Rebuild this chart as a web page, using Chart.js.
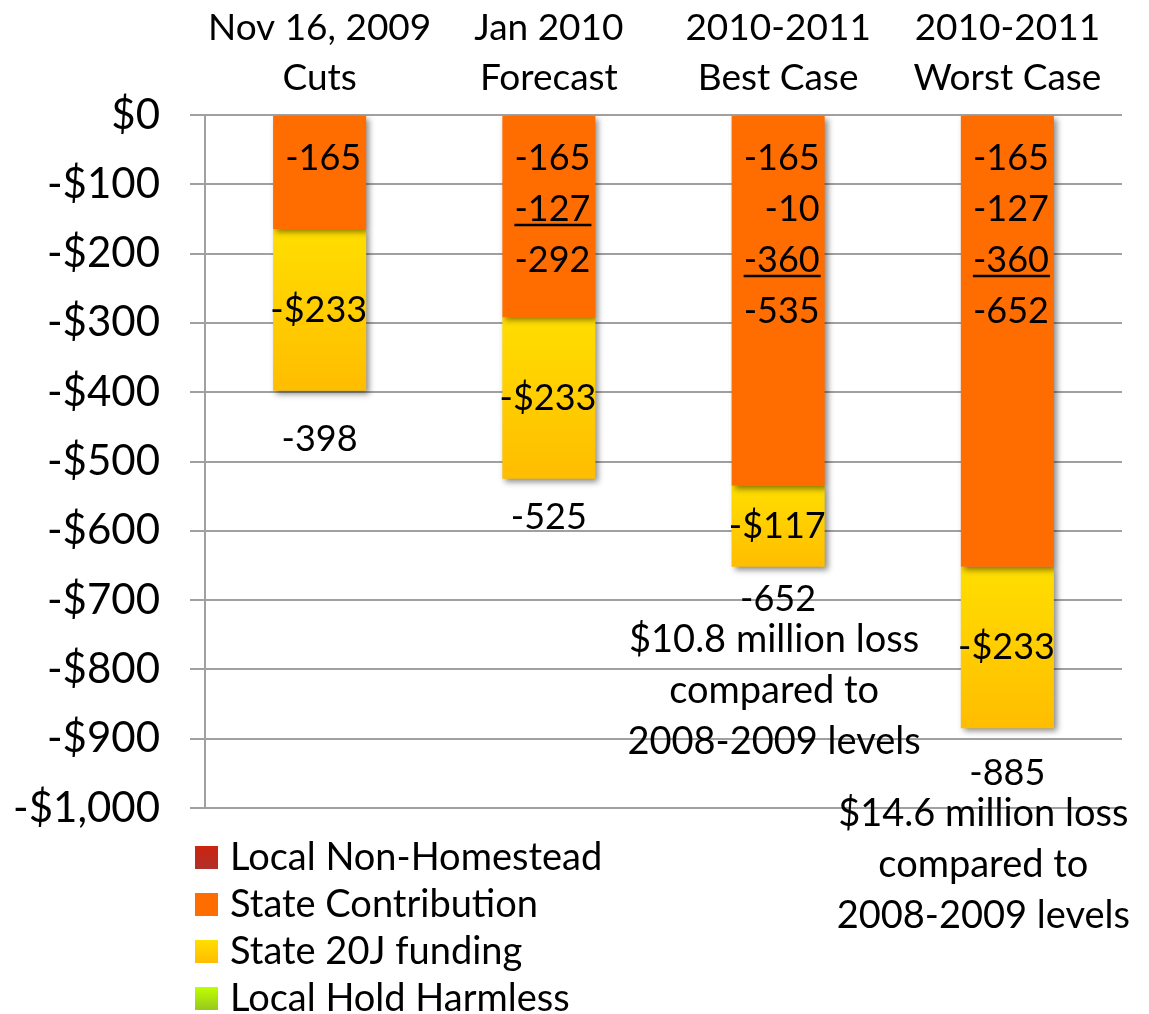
<!DOCTYPE html>
<html>
<head>
<meta charset="utf-8">
<script src="https://cdn.jsdelivr.net/npm/chart.js@4/dist/chart.umd.min.js"></script>
<style>
  html, body { margin: 0; padding: 0; background: #fff; }
  #wrap { width: 1149px; height: 1014px; position: relative; }
</style>
</head>
<body>
<div id="wrap"><canvas id="c"></canvas></div>
<script>
// ---- data ----
const categories = [["Nov 16, 2009", "Cuts"], ["Jan 2010", "Forecast"], ["2010-2011", "Best Case"], ["2010-2011", "Worst Case"]];
const seriesNames = ["Local Non-Homestead", "State Contribution", "State 20J funding", "Local Hold Harmless"];
const localNonHomestead = [0, 0, 0, 0];
const stateContribution = [-165, -292, -535, -652];
const state20J = [-233, -233, -117, -233];
const localHoldHarmless = [0, 0, 0, 0];
const totals = [-398, -525, -652, -885];
// breakdown text shown inside the State Contribution bars (underlined entry flagged)
const contributionBreakdown = [
  [["-165", false]],
  [["-165", false], ["-127", true], ["-292", false]],
  [["-165", false], ["-10", false], ["-360", true], ["-535", false]],
  [["-165", false], ["-127", false], ["-360", true], ["-652", false]]
];
const segmentLabels20J = ["-$233", "-$233", "-$117", "-$233"];
const notes = [null, null, ["$10.8 million loss", "compared to", "2008-2009 levels"], ["$14.6 million loss", "compared to", "2008-2009 levels"]];
const yTicks = [0, -100, -200, -300, -400, -500, -600, -700, -800, -900, -1000];

const FONT = "Lato, 'Open Sans', sans-serif";
const GRID = '#A0A0A0';

function yellowGrad(ctx) {
  const chart = ctx.chart;
  if (!chart.chartArea || ctx.dataIndex === undefined) return '#FFD000';
  const ys = chart.scales.y;
  const i = ctx.dataIndex;
  const start = localNonHomestead[i] + stateContribution[i];
  const top = ys.getPixelForValue(start);
  const bottom = ys.getPixelForValue(start + state20J[i]);
  if (!isFinite(top) || !isFinite(bottom) || top === bottom) return '#FFD000';
  const g = chart.ctx.createLinearGradient(0, top, 0, bottom);
  g.addColorStop(0, '#FFDE00');
  g.addColorStop(1, '#FFBD00');
  return g;
}

const shadowPlugin = {
  id: 'barShadow',
  beforeDatasetsDraw(chart) {
    const c = chart.ctx;
    c.save();
    c.shadowColor = 'rgba(0,0,0,0.45)';
    c.shadowBlur = 6;
    c.shadowOffsetX = 3;
    c.shadowOffsetY = 3;
  },
  afterDatasetsDraw(chart) {
    chart.ctx.restore();
  }
};

const labelPlugin = {
  id: 'labels',
  afterDraw(chart) {
    const c = chart.ctx;
    const area = chart.chartArea;
    const metaC = chart.getDatasetMeta(1);
    const metaY = chart.getDatasetMeta(2);
    c.save();
    c.fillStyle = '#000';
    c.strokeStyle = '#000';
    c.textBaseline = 'middle';
    const numFont = '36px ' + FONT;
    const noteFont = '38px ' + FONT;
    const totalNudge = [49, 39, 33, 45];
    categories.forEach((cat, i) => {
      const barC = metaC.data[i];
      const barY = metaY.data[i];
      const right = barC.x + barC.width / 2;
      c.font = numFont;
      // breakdown lines in State Contribution bar
      c.textAlign = 'right';
      contributionBreakdown[i].forEach((ln, k) => {
        const yy = area.top + 43 + k * 51;
        const tx = right - 5;
        c.fillText(ln[0], tx, yy);
        if (ln[1]) {
          const w = c.measureText(ln[0]).width;
          c.lineWidth = 2.5;
          c.beginPath();
          c.moveTo(tx - w, yy + 16);
          c.lineTo(tx + 1, yy + 16);
          c.stroke();
        }
      });
      // 20J segment label
      const midY = (barY.y + barY.base) / 2;
      c.fillText(segmentLabels20J[i], right + 1, midY);
      // total label below bar
      c.textAlign = 'center';
      const bottomY = Math.max(barY.y, barY.base);
      const ty = bottomY + totalNudge[i];
      c.fillText(String(totals[i]), barC.x, ty);
      // notes
      if (notes[i]) {
        c.font = noteFont;
        let maxW = 0;
        notes[i].forEach(t => { maxW = Math.max(maxW, c.measureText(t).width); });
        let cx = barC.x - 4;
        const limit = chart.width - 19;
        if (cx + maxW / 2 > limit) cx = limit - maxW / 2;
        notes[i].forEach((t, k) => {
          c.fillText(t, cx, ty + 40 + k * 51);
        });
      }
    });
    c.restore();
  }
};

const legendPlugin = {
  id: 'customLegend',
  afterDraw(chart) {
    const c = chart.ctx;
    const area = chart.chartArea;
    const fills = [
      ['#CC2410', '#B0302A'],
      ['#FF6D00', '#FF6D00'],
      ['#FFDE00', '#FFBD00'],
      ['#C0FF00', '#96C81E']
    ];
    c.save();
    c.font = '38px ' + FONT;
    c.textBaseline = 'middle';
    c.textAlign = 'left';
    seriesNames.forEach((name, k) => {
      const cy = area.bottom + 50 + k * 47;
      const bx = area.left - 10, by = cy - 12, bs = 23;
      const g = c.createLinearGradient(0, by, 0, by + bs);
      g.addColorStop(0, fills[k][0]);
      g.addColorStop(1, fills[k][1]);
      c.fillStyle = g;
      c.fillRect(bx, by, bs, bs);
      c.fillStyle = '#000';
      c.fillText(name, area.left + 25, cy);
    });
    c.restore();
  }
};

new Chart(document.getElementById('c'), {
  type: 'bar',
  data: {
    labels: categories,
    datasets: [
      { label: seriesNames[0], data: localNonHomestead, backgroundColor: '#C0281A', borderWidth: 0 },
      { label: seriesNames[1], data: stateContribution, backgroundColor: '#FF6D00', borderWidth: 0 },
      { label: seriesNames[2], data: state20J, backgroundColor: yellowGrad, borderWidth: 0 },
      { label: seriesNames[3], data: localHoldHarmless, backgroundColor: '#A8E000', borderWidth: 0 }
    ]
  },
  options: {
    responsive: true,
    maintainAspectRatio: false,
    animation: false,
    layout: { padding: { top: 0, right: 27, bottom: 206, left: 0 } },
    plugins: {
      legend: { display: false },
      tooltip: { enabled: false },
      title: { display: false }
    },
    datasets: { bar: { categoryPercentage: 1.0, barPercentage: 0.406 } },
    scales: {
      x: {
        position: 'top',
        stacked: true,
        afterFit(scale) { scale.height = 115; },
        grid: { display: false, drawTicks: false },
        border: { display: false },
        ticks: {
          color: '#000',
          font: { family: FONT, size: 37, lineHeight: 1.35 },
          padding: 12,
          maxRotation: 0,
          autoSkip: false
        }
      },
      y: {
        stacked: true,
        min: -1000,
        max: 0,
        afterFit(scale) { scale.width = 205; },
        afterBuildTicks(scale) { scale.ticks = yTicks.map(v => ({ value: v })); },
        grid: { color: GRID, lineWidth: 2, tickLength: 15, drawTicks: true },
        border: { display: true, color: GRID, width: 2 },
        ticks: {
          color: '#000',
          font: { family: FONT, size: 42 },
          padding: 30,
          callback: v => v === 0 ? '$0' : '-$' + Math.abs(v).toLocaleString('en-US')
        }
      }
    }
  },
  plugins: [shadowPlugin, labelPlugin, legendPlugin]
});
</script>
</body>
</html>
